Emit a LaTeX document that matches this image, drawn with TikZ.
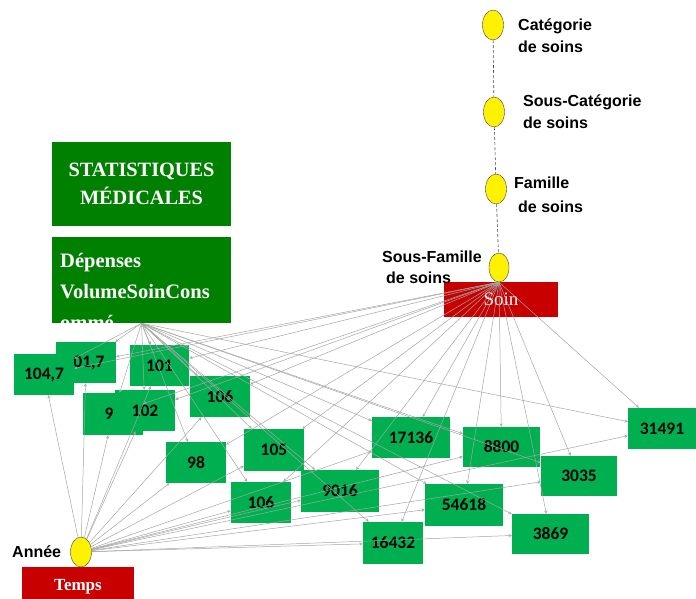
\documentclass[tikz,border=0pt]{standalone}
\usepackage{fontspec}
\setmainfont{Liberation Serif}
\setsansfont{Liberation Sans}
\newfontfamily\numfont{Carlito}
\usetikzlibrary{shapes.geometric}

\definecolor{leafgreen}{RGB}{0,176,80}
\definecolor{statgreen}{RGB}{0,128,0}
\definecolor{dimred}{RGB}{200,0,0}
\definecolor{linkgray}{RGB}{165,165,165}

\tikzset{
  leaf/.style={fill=leafgreen, minimum height=41pt, inner sep=0pt, font=\numfont\bfseries\fontsize{17.5}{19}\selectfont},
  statbox/.style={fill=statgreen, inner sep=0pt, text=white, font=\bfseries\fontsize{20.3}{28}\selectfont},
  dimbox/.style={fill=dimred, inner sep=0pt, text=white},
  level/.style={ellipse, draw=black!75, fill=yellow, minimum width=21pt, minimum height=30pt, inner sep=0pt},
  lbl/.style={anchor=base west, inner sep=0pt, align=left, font=\sffamily\bfseries\fontsize{16}{22}\selectfont},
  link/.style={draw=linkgray, line width=0.5pt, ->, >=stealth},
}

\begin{document}
\begin{tikzpicture}[x=1pt, y=-1pt]

        \useasboundingbox (0,0) rectangle (696,598);

        % measures

        \node[statbox, minimum width=179pt, minimum height=84pt, align=center] (stat) at (141.5,184) {STATISTIQUES\\MÉDICALES};
        \node[statbox, minimum width=179pt, minimum height=86pt] (mes) at (141.5,280) {};
        \node[anchor=base west, inner sep=0pt, align=left, text=white, font=\bfseries\fontsize{20.5}{31}\selectfont] (mestxt) at (60,329) {Dépenses\\VolumeSoinCons\\ommé};

        % dimensions

        \node[dimbox, minimum width=114pt, minimum height=35pt, font=\fontsize{19}{20}\selectfont] (soin) at (501,299) {Soin};
        \node[dimbox, minimum width=112pt, minimum height=40pt, font=\bfseries\fontsize{17}{20}\selectfont] (temps) at (78,587) {Temps};

        % values

        \node[leaf, minimum width=60pt] (b1017) at (86,362.5) {\hspace*{6pt}01,7};
        \node[leaf, minimum width=60pt] (b1047) at (44,374.5) {104,7};
        \node[leaf, minimum width=59pt] (b101) at (159.5,365.5) {101};
        \node[leaf, minimum width=60pt, minimum height=42pt] (b99) at (113,414) {9\hspace*{8pt}};
        \node[leaf, minimum width=60pt] (b102) at (145,410.5) {102};
        \node[leaf, minimum width=60pt] (b106a) at (220,396.5) {106};
        \node[leaf, minimum width=60pt] (b98) at (196,462.5) {98};
        \node[leaf, minimum width=60pt, minimum height=42pt] (b105) at (274,450) {105};
        \node[leaf, minimum width=60pt] (b106b) at (261,502.5) {106};
        \node[leaf, minimum width=78pt, minimum height=42pt] (b9016) at (340,491) {9016};
        \node[leaf, minimum width=78pt] (b17136) at (411,437.5) {17136};
        \node[leaf, minimum width=60pt, minimum height=42pt] (b16432) at (393,543) {16432};
        \node[leaf, minimum width=78pt, minimum height=42pt] (b54618) at (464,505) {54618};
        \node[leaf, minimum width=77pt, minimum height=40pt] (b8800) at (501.5,447) {8800};
        \node[leaf, minimum width=76pt, minimum height=40pt] (b3035) at (579,476) {3035};
        \node[leaf, minimum width=68pt] (b31491) at (662,428.5) {31491};
        \node[leaf, minimum width=77pt, minimum height=40pt] (b3869) at (550.5,534) {3869};

        % hierarchy

        \node[level] (cat) at (493,25) {};
        \node[level] (scat) at (494,112) {};
        \node[level] (fam) at (496,189) {};
        \node[level, minimum width=20pt, minimum height=29pt] (sfam) at (499,267.5) {};
        \node[level] (annee) at (81,552) {};

        \node[lbl] (catlbl) at (518,52) {Catégorie\\de soins};
        \node[lbl] (scatlbl) at (523,128) {Sous-Catégorie\\de soins};
        \node[lbl, font=\sffamily\bfseries\fontsize{16}{24}\selectfont] (famlbl) at (514,212) {Famille\\\hspace*{4pt}de soins};
        \node[lbl, font=\sffamily\bfseries\fontsize{16}{21}\selectfont] (sfamlbl) at (382,283) {Sous-Famille\\\hspace*{4pt}de soins};
        \node[lbl] (anneelbl) at (12,557) {Année};

        \draw[black!70, densely dashed, line width=0.6pt] (cat) -- (scat) -- (fam) -- (sfam);

        % links

        \foreach \b in {b1047,b1017,b101,b99,b102,b106a,b98,b105,b106b,b9016,b17136,b16432,b54618,b8800,b3035,b31491,b3869} {
            \draw[link] (mes.south) -- (\b);
            \draw[link] (sfam.south) -- (\b);
            \draw[link] (annee) -- (\b);
        }

    \end{tikzpicture}
\end{document}
